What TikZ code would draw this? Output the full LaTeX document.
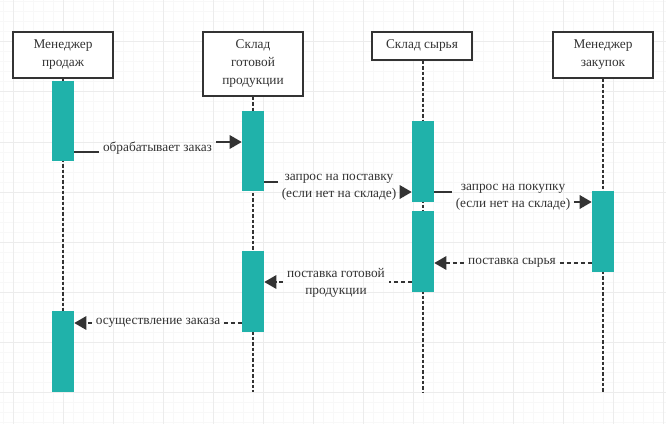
\documentclass[tikz,border=0pt]{standalone}
\usepackage{fontspec}
\setmainfont{Liberation Serif}
\usetikzlibrary{arrows.meta}
\definecolor{bar}{RGB}{32,178,170}
\definecolor{ink}{RGB}{51,51,51}
\definecolor{gridminor}{RGB}{248,248,248}
\definecolor{gridmajor}{RGB}{236,236,236}
\tikzset{
  actor/.style={draw=ink, line width=1.5pt, fill=white, minimum width=75pt, inner sep=0pt,
    align=center, text=ink, font=\fontsize{10}{13.5}\selectfont},
  act/.style={fill=bar, minimum width=16.5pt, minimum height=60.5pt, inner sep=0pt},
  lifeline/.style={ink, line width=1.5pt, dash pattern=on 2.6pt off 1.4pt},
  msg/.style={text=ink, align=center, inner xsep=3pt, inner ysep=0pt,
    font=\fontsize{10}{13}\selectfont},
  call/.style={ink, line width=1.5pt, -{Triangle[length=9pt,width=10pt]}},
  plain/.style={ink, line width=1.5pt},
  reply/.style={call, dash pattern=on 3pt off 2.25pt},
  replyplain/.style={plain, dash pattern=on 3pt off 2.25pt},
}
\begin{document}
\begin{tikzpicture}[x=0.75pt, y=-0.75pt]
  % background and grid
  \fill[white] (0,0) rectangle (666,424);
  \useasboundingbox (0,0) rectangle (666,424);
  \foreach \x in {3,13,...,663} \draw[gridminor, line width=0.75pt] (\x,0) -- (\x,424);
  \foreach \y in {2,12,...,422} \draw[gridminor, line width=0.75pt] (0,\y) -- (666,\y);
  \foreach \x in {13,63,...,663} \draw[gridmajor, line width=0.75pt] (\x,0) -- (\x,424);
  \foreach \y in {42,92,...,392} \draw[gridmajor, line width=0.75pt] (0,\y) -- (666,\y);

  % participants
  \node [actor, minimum height=34.5pt] (sales) at (63,55) {Менеджер\\продаж};
  \node [actor, minimum height=48pt] (goods) at (253,64) {Склад\\готовой\\продукции};
  \node [actor, minimum height=21pt] (raw) at (422,46) {Склад сырья};
  \node [actor, minimum height=34.5pt] (buyer) at (603,55) {Менеджер\\закупок};

  \coordinate (e1) at (63,392);
  \coordinate (e2) at (253,392);
  \coordinate (e3) at (423,392);
  \coordinate (e4) at (603,392);
  \draw [lifeline] (sales.south) -- (e1);
  \draw [lifeline] (goods.south) -- (e2);
  \draw [lifeline] (raw.south -| e3) -- (e3);
  \draw [lifeline] (buyer.south) -- (e4);

  % activations
  \node [act] (a1) at (63,121) {};
  \node [act] (a1b) at (63,351.5) {};
  \node [act] (a2) at (253,151) {};
  \node [act] (a2b) at (253,291.5) {};
  \node [act] (a3) at (423,161.5) {};
  \node [act] (a3b) at (423,251.5) {};
  \node [act] (a4) at (603,231.5) {};

  % messages
  \coordinate (l1a) at (0,152); \coordinate (l1b) at (0,142);
  \coordinate (l2a) at (0,182); \coordinate (l2b) at (0,192);
  \coordinate (l3a) at (0,192); \coordinate (l3b) at (0,202);
  \coordinate (l4) at (0,263);
  \coordinate (l5) at (0,282);
  \coordinate (l6) at (0,323);

  \node [msg] (m1) at (157.5,148) {обрабатывает заказ};
  \draw [plain] (a1.east |- l1a) -- (m1.west |- l1a);
  \draw [call] (m1.east |- l1b) -- (a2.west |- l1b);

  \node [msg] (m2) at (339,187) {запрос на поставку\\(если нет на складе)};
  \draw [plain] (a2.east |- l2a) -- (m2.west |- l2a);
  \draw [call] (m2.east |- l2b) -- (a3.west |- l2b);

  \node [msg] (m3) at (513,197) {запрос на покупку\\(если нет на складе)};
  \draw [plain] (a3.east |- l3a) -- (m3.west |- l3a);
  \draw [call] (m3.east |- l3b) -- (a4.west |- l3b);

  \node [msg] (m4) at (512,263) {поставка сырья};
  \draw [replyplain] (a4.west |- l4) -- (m4.east |- l4);
  \draw [reply] (m4.west |- l4) -- (a3b.east |- l4);

  \node [msg] (m5) at (336,283) {поставка готовой\\продукции};
  \draw [replyplain] (a3b.west |- l5) -- (m5.east |- l5);
  \draw [reply] (m5.west |- l5) -- (a2b.east |- l5);

  \node [msg] (m6) at (158,323) {осуществление заказа};
  \draw [replyplain] (a2b.west |- l6) -- (m6.east |- l6);
  \draw [reply] (m6.west |- l6) -- (a1b.east |- l6);
\end{tikzpicture}
\end{document}
